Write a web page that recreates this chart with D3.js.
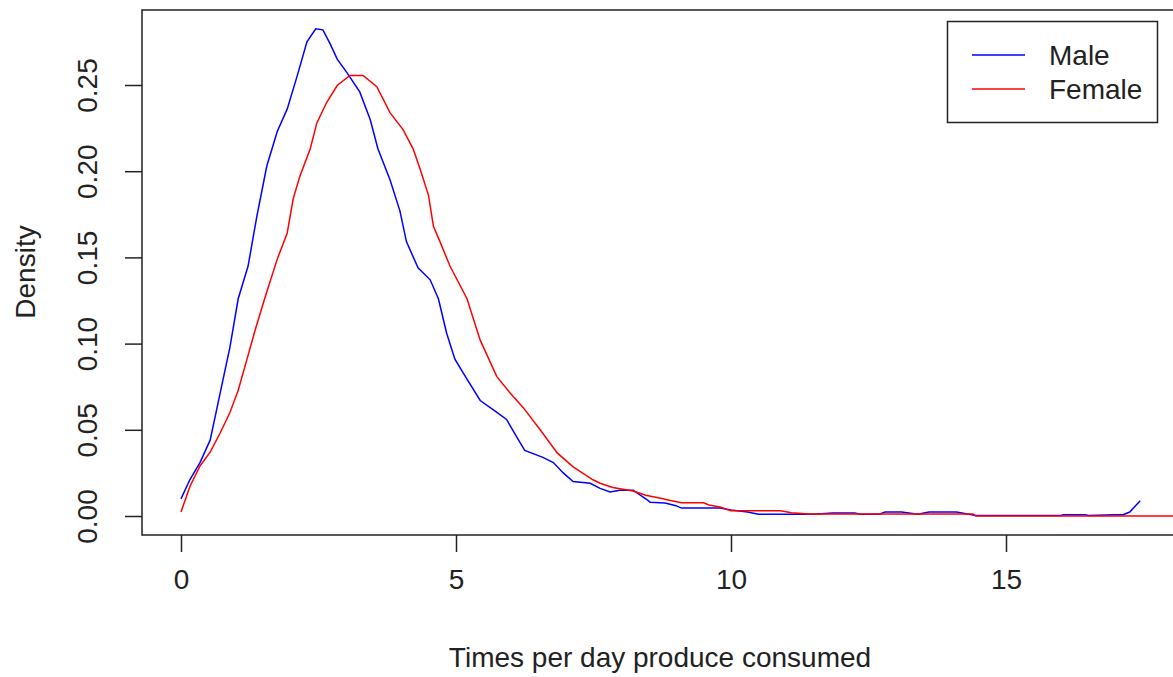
<!DOCTYPE html>
<html>
<head>
<meta charset="utf-8">
<script src="https://cdn.jsdelivr.net/npm/d3@7"></script>
<style>
  body { margin: 0; background: #fff; }
  svg { display: block; font-family: "Liberation Sans", Arial, sans-serif; }
</style>
</head>
<body>
<div id="chart"></div>
<script>
// density estimates
var maleX = [0, 0.16, 0.345, 0.53, 0.71, 0.89, 1.04, 1.22, 1.38, 1.56, 1.75, 1.93, 2.11, 2.29, 2.45, 2.58, 2.71, 2.84, 3.02, 3.25, 3.44, 3.58, 3.8, 3.98, 4.1, 4.31, 4.53, 4.68, 4.83, 4.98, 5.13, 5.44, 5.68, 5.92, 6.1, 6.25, 6.58, 6.77, 6.95, 7.13, 7.44, 7.62, 7.8, 7.98, 8.22, 8.45, 8.53, 8.8, 9.0, 9.1, 9.8, 10.0, 10.3, 10.5, 11.5, 11.85, 12.25, 12.35, 12.7, 12.8, 13.1, 13.4, 13.6, 14.1, 14.3, 14.45, 16.0, 16.04, 16.44, 16.5, 16.98, 17.13, 17.25, 17.44]
var maleY = [0.0099, 0.021, 0.031, 0.044, 0.071, 0.098, 0.126, 0.145, 0.174, 0.203, 0.223, 0.236, 0.255, 0.275, 0.2826, 0.282, 0.274, 0.265, 0.257, 0.246, 0.230, 0.213, 0.195, 0.177, 0.159, 0.144, 0.137, 0.126, 0.106, 0.091, 0.083, 0.067, 0.0616, 0.056, 0.046, 0.038, 0.034, 0.031, 0.025, 0.020, 0.019, 0.016, 0.014, 0.015, 0.015, 0.010, 0.008, 0.0076, 0.006, 0.0046, 0.0046, 0.0035, 0.0023, 0.001, 0.001, 0.0017, 0.0017, 0.001, 0.001, 0.0023, 0.0023, 0.001, 0.0023, 0.0023, 0.0012, 0.0003, 0.0003, 0.0007, 0.0007, 0.0003, 0.0007, 0.0007, 0.0023, 0.0089]

var femaleX = [0, 0.16, 0.345, 0.53, 0.71, 0.89, 1.04, 1.2, 1.35, 1.53, 1.75, 1.93, 2.04, 2.16, 2.35, 2.47, 2.65, 2.84, 3.07, 3.31, 3.56, 3.8, 4.04, 4.22, 4.35, 4.5, 4.59, 4.71, 4.89, 5.2, 5.44, 5.74, 5.98, 6.22, 6.53, 6.84, 7.13, 7.49, 7.62, 7.85, 8.22, 8.45, 8.7, 8.9, 9.1, 9.5, 9.6, 9.8, 10.0, 10.9, 11.1, 11.4, 14.4, 14.45, 18.5]
var femaleY = [0.0023, 0.017, 0.029, 0.037, 0.048, 0.060, 0.073, 0.091, 0.108, 0.127, 0.149, 0.164, 0.184, 0.197, 0.213, 0.228, 0.240, 0.2497, 0.2555, 0.2555, 0.249, 0.234, 0.224, 0.213, 0.201, 0.186, 0.168, 0.159, 0.145, 0.126, 0.102, 0.081, 0.0715, 0.063, 0.050, 0.0366, 0.0285, 0.021, 0.019, 0.0165, 0.0145, 0.012, 0.0105, 0.009, 0.0077, 0.0077, 0.0064, 0.0052, 0.003, 0.003, 0.0019, 0.0012, 0.0012, 0, 0]

var xTicks = [0, 5, 10, 15]
var yTicks = [0, 0.05, 0.10, 0.15, 0.20, 0.25]
var seriesNames = ["Male", "Female"]
var seriesColors = ["blue", "red"]

var width = 1173, height = 677
var box = {left: 142, top: 10, right: 1200, bottom: 535}
var fontSize = "28px"

var svg = d3.select("#chart").append("svg")
  .attr("width", width)
  .attr("height", height)

x = d3.scaleLinear().domain([0, 15]).range([181, 1006])
y = d3.scaleLinear().domain([0, 0.25]).range([516, 85])

svg.append("clipPath").attr("id", "plotclip")
  .append("rect")
  .attr("x", box.left).attr("y", box.top)
  .attr("width", box.right - box.left).attr("height", box.bottom - box.top)

var drawLine = d3.line()
  .x(d => x(d[0]))
  .y(d => y(d[1]))

var male = d3.zip(maleX, maleY)
var female = d3.zip(femaleX, femaleY)

svg.append("path")
  .datum(male)
  .attr("clip-path", "url(#plotclip)")
  .attr("fill", "none")
  .attr("stroke", seriesColors[0])
  .attr("stroke-width", 1.5)
  .attr("d", drawLine)

svg.append("path")
  .datum(female)
  .attr("clip-path", "url(#plotclip)")
  .attr("fill", "none")
  .attr("stroke", seriesColors[1])
  .attr("stroke-width", 1.5)
  .attr("d", drawLine)

// frame
svg.append("rect")
  .attr("x", box.left).attr("y", box.top)
  .attr("width", box.right - box.left).attr("height", box.bottom - box.top)
  .attr("fill", "none")
  .attr("stroke", "#222")
  .attr("stroke-width", 1.5)

// x axis
var xAxis = svg.append("g")
  .attr("transform", `translate(0,${box.bottom})`)
  .call(d3.axisBottom(x).tickValues(xTicks).tickSize(17).tickPadding(17).tickSizeOuter(0))
xAxis.select(".domain").remove()
xAxis.selectAll("line").attr("stroke", "#222").attr("stroke-width", 1.5)
xAxis.selectAll("text").attr("fill", "#222").style("font-size", fontSize)

// y axis, labels turned like R's las=0
var yAxis = svg.append("g")
  .attr("transform", `translate(${box.left},0)`)
  .call(d3.axisLeft(y).tickValues(yTicks).tickFormat(d3.format(".2f")).tickSize(17).tickSizeOuter(0))
yAxis.select(".domain").remove()
yAxis.selectAll("line").attr("stroke", "#222").attr("stroke-width", 1.5)
yAxis.selectAll("text")
  .attr("fill", "#222")
  .style("font-size", fontSize)
  .attr("x", null)
  .attr("text-anchor", "middle")
  .attr("transform", "translate(-55,0) rotate(-90)")
  .attr("dy", "0.35em")

svg.append("text")
  .attr("x", 660).attr("y", 667)
  .attr("text-anchor", "middle")
  .attr("fill", "#222")
  .style("font-size", fontSize)
  .text("Times per day produce consumed")

svg.append("text")
  .attr("transform", "translate(35,272) rotate(-90)")
  .attr("text-anchor", "middle")
  .attr("fill", "#222")
  .style("font-size", fontSize)
  .text("Density")

// Handmade legend
svg.append("rect")
  .attr("x", 947.5).attr("y", 21.5).attr("width", 210).attr("height", 101)
  .attr("fill", "#fff").attr("stroke", "#222").attr("stroke-width", 1.5)
seriesNames.forEach(function(name, i) {
  var ly = 55 + i * 34
  svg.append("line").attr("x1", 972).attr("x2", 1025).attr("y1", ly).attr("y2", ly)
    .attr("stroke", seriesColors[i]).attr("stroke-width", 1.5)
  svg.append("text").attr("x", 1049).attr("y", ly + 10)
    .attr("fill", "#222").style("font-size", fontSize).text(name)
})
</script>
</body>
</html>
